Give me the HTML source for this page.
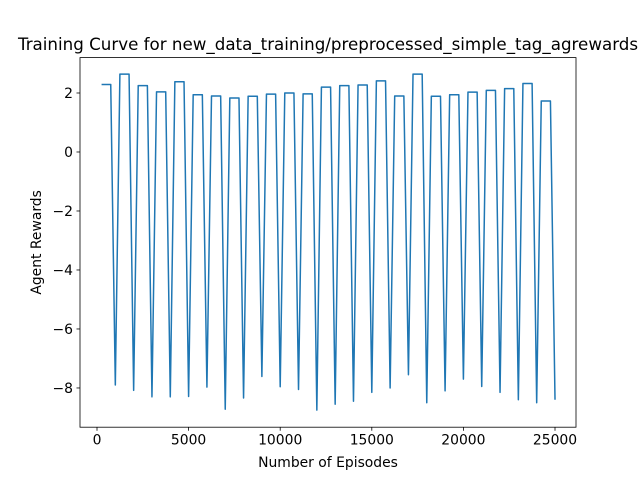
<!DOCTYPE html>
<html><head><meta charset="utf-8"><style>body{margin:0;background:#fff}svg{display:block}</style></head>
<body>
<svg id="c" width="640" height="480" xmlns="http://www.w3.org/2000/svg" font-family="DejaVu Sans, Liberation Sans, sans-serif">
<rect width="640" height="480" fill="#fff"/>
</svg>
<script>
const highs=[2.29,2.64,2.25,2.04,2.38,1.94,1.90,1.83,1.89,1.96,2.0,1.97,2.2,2.25,2.27,2.41,1.90,2.64,1.89,1.94,2.03,2.09,2.15,2.32,1.73];
const lows=[-7.9,-8.08,-8.3,-8.3,-8.29,-7.97,-8.72,-8.34,-7.61,-7.96,-8.05,-8.75,-8.55,-8.45,-8.15,-8.0,-7.55,-8.5,-8.1,-7.7,-7.95,-8.15,-8.4,-8.5,-8.4];
const xTicks=[0,5000,10000,15000,20000,25000];
const yTicks=[-8,-6,-4,-2,0,2];
const L=80,R=576,T=57.6,B=427.2;
const X0=-928,X1=26146,Y0=-9.33,Y1=3.2;
const sx=v=>L+(v-X0)/(X1-X0)*(R-L);
const sy=v=>B-(v-Y0)/(Y1-Y0)*(B-T);
const svg=document.getElementById('c');
const NS='http://www.w3.org/2000/svg';
function mk(t,a,p){const e=document.createElementNS(NS,t);for(const k in a)e.setAttribute(k,a[k]);(p||svg).appendChild(e);return e;}
let pts=[];
for(let k=0;k<highs.length;k++){
  pts.push([k*1000+250,highs[k]]);pts.push([k*1000+750,highs[k]]);pts.push([(k+1)*1000,lows[k]]);
}
const line=mk('polyline',{points:pts.map(p=>sx(p[0]).toFixed(2)+','+sy(p[1]).toFixed(2)).join(' '),fill:'none',stroke:'#1f77b4','stroke-width':1.5,'stroke-linejoin':'round'});


const frame=mk('rect',{x:L,y:T,width:R-L,height:B-T,fill:'none',stroke:'#000','stroke-width':0.8});


xTicks.forEach(v=>{
  const x=sx(v);
  const tk=mk('line',{x1:x,x2:x,y1:B,y2:B+3.5,stroke:'#000','stroke-width':0.8});
  
  
  const t=mk('text',{x:x,y:B+17.5,'text-anchor':'middle','font-size':'13.9px'});
  t.textContent=v;
  
  
});
yTicks.forEach(v=>{
  const y=sy(v);
  const tk=mk('line',{x1:L-3.5,x2:L,y1:y,y2:y,stroke:'#000','stroke-width':0.8});
  
  
  const t=mk('text',{x:L-7,y:y+5,'text-anchor':'end','font-size':'13.9px'});
  t.textContent=v<0?'\u2212'+(-v):v;
  
  
});
const xt=mk('text',{x:(L+R)/2,y:467,'text-anchor':'middle','font-size':'13.9px'});
xt.textContent='Number of Episodes';


const yt=mk('text',{x:0,y:0,'text-anchor':'middle','font-size':'13.9px',transform:'translate(41,'+((T+B)/2)+') rotate(-90)'});
yt.textContent='Agent Rewards';


const tt=mk('text',{x:(L+R)/2,y:50,'text-anchor':'middle','font-size':'16.7px'});
tt.textContent='Training Curve for new_data_training/preprocessed_simple_tag_agrewards';


</script>
</body></html>
